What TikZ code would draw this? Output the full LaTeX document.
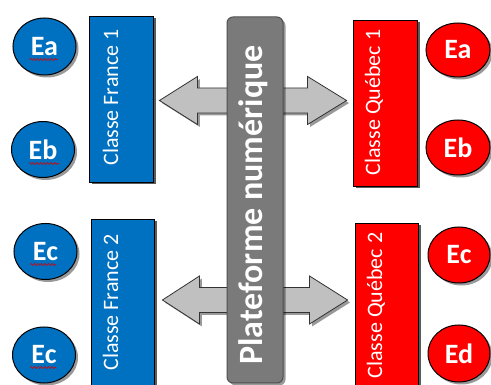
\documentclass[tikz,border=0pt]{standalone}
\usepackage{fontspec}
\setmainfont{Carlito}
\usetikzlibrary{shapes.geometric,shadows,calc,decorations.pathmorphing}
\definecolor{fblue}{HTML}{0070C0}
\definecolor{qred}{HTML}{FF0000}
\definecolor{pgray}{HTML}{7A7A7A}
\definecolor{pborder}{HTML}{505050}
\definecolor{agray}{HTML}{C0C0C0}
\begin{document}
\begin{tikzpicture}[x=1pt,y=-1pt,
  shad/.style={drop shadow={shadow xshift=2.5pt,shadow yshift=-2.5pt,opacity=0.4,fill=black}},
  circ/.style={ellipse,draw=black,line width=1pt,minimum width=63pt,minimum height=56pt,
    inner sep=0pt,text=white,font=\bfseries\fontsize{28}{28}\selectfont,shad},
  bluecirc/.style={circ,fill=fblue},
  redcirc/.style={circ,fill=qred},
  classbox/.style={rectangle,draw=black,line width=0.9pt,minimum width=64pt,minimum height=166pt,
    inner sep=0pt,shad},
  classtext/.style={rotate=90,anchor=base,text=white,inner sep=0pt,font=\fontsize{22}{22}\selectfont},
  platbox/.style={rectangle,rounded corners=6pt,draw=pborder,line width=1pt,fill=pgray,
    minimum width=56pt,minimum height=366pt,inner sep=0pt,shad},
  arrowsty/.style={draw=black!80,line width=0.8pt,fill=agray,line join=miter,shad},
  squig/.style={draw=red!85!black,line width=0.6pt,decorate,
    decoration={snake,amplitude=1pt,segment length=3.5pt}}
]
\useasboundingbox[fill=white] (0,0) rectangle (491,385);

% class boxes (positions)
\node[classbox,fill=fblue] (bf1) at (121,99) {};
\node[classbox,fill=fblue,minimum width=63pt] (bf2) at (122.5,302) {};
\node[classbox,fill=qred] (rq1) at (385,103) {};
\node[classbox,fill=qred,minimum width=63pt] (rq2) at (386.5,306) {};

% double arrows (behind platform)
\coordinate (tl1) at ($(bf1.east)+(6,1.5)$);
\coordinate (tr1) at ($(rq1.west)+(-6,-2.5)$);
\coordinate (tl2) at ($(bf2.east)+(8,-2)$);
\coordinate (tr2) at ($(rq2.west)+(-7,-6)$);
\draw[arrowsty] (tl1) -- ++(38,-24) -- ++(0,11.5) -- ($(tr1)+(-39,-12.5)$) -- ++(0,-11.5)
  -- (tr1) -- ++(-39,24) -- ++(0,-11.5) -- ($(tl1)+(38,12.5)$) -- ++(0,11.5) -- cycle;
\draw[arrowsty] (tl2) -- ++(37,-24) -- ++(0,11.5) -- ($(tr2)+(-38,-12.5)$) -- ++(0,-11.5)
  -- (tr2) -- ++(-38,24) -- ++(0,-11.5) -- ($(tl2)+(37,12.5)$) -- ++(0,11.5) -- cycle;

% platform
\node[platbox] (plat) at (255,200) {};
\node[rotate=90,anchor=base,text=white,inner sep=0pt,font=\bfseries\fontsize{34}{34}\selectfont]
  (platt) at ($(plat.center)+(7,5)$) {Plateforme numérique};

% redraw class boxes on top
\node[classbox,fill=fblue] (bf1b) at (bf1) {};
\node[classbox,fill=fblue,minimum width=63pt] (bf2b) at (bf2) {};
\node[classbox,fill=qred] (rq1b) at (rq1) {};
\node[classbox,fill=qred,minimum width=63pt] (rq2b) at (rq2) {};

\node[classtext] (bf1t) at ($(bf1.center)+(-3,-1.5)$) {Classe France 1};
\node[classtext] (bf2t) at ($(bf2.center)+(-4.5,0.5)$) {Classe France 2};
\node[classtext] (rq1t) at ($(rq1.center)+(-5,-0.5)$) {Classe Québec 1};
\node[classtext] (rq2t) at ($(rq2.center)+(-4.5,-0.5)$) {Classe Québec 2};

% students
\node[bluecirc,minimum height=57pt] (bea) at (44.5,46.5) {Ea};
\node[bluecirc] (beb) at (43,149.5) {Eb};
\node[bluecirc] (bec) at (45.5,251.5) {Ec};
\node[bluecirc] (bec2) at (44,355) {Ec};
\node[redcirc,minimum width=64pt,minimum height=54pt] (rea) at (458,50) {Ea};
\node[redcirc,minimum width=64pt,minimum height=55pt] (reb) at (458,147.5) {Eb};
\node[redcirc,minimum width=62pt] (rec) at (459,255) {Ec};
\node[redcirc,minimum width=62pt,minimum height=57pt] (red) at (459,353.5) {Ed};

% spell-check squiggles
\draw[squig] ($(bea.center)+(-15,13)$) -- ++(28,0);
\draw[squig] ($(beb.center)+(-14,14)$) -- ++(30,0);
\draw[squig] ($(bec.center)+(-15.5,13)$) -- ++(26,0);
\draw[squig] ($(bec2.center)+(-14,12.5)$) -- ++(26,0);
\end{tikzpicture}
\end{document}
